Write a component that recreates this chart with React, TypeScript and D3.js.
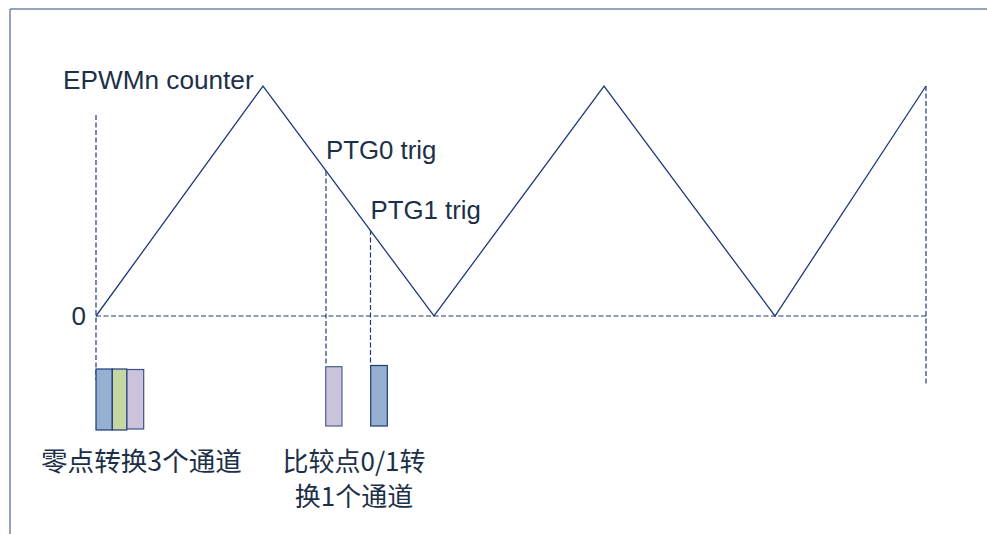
import React from "react";
import * as d3 from "d3";

// Counter waveform (time in arbitrary units, counter normalised 0..1)
const waveTimes = [0, 167, 338, 508, 679, 830];
const waveValues = [0, 1, 0, 1, 0, 1];

// Trigger points on the falling edge
const trigNames = ["PTG0 trig", "PTG1 trig"];
const trigTimes = [230, 274.5];
const trigValues = [0.63, 0.374];

// Conversion blocks: [start, end] time, colour group
const zeroBlocks = [
  { t0: 0, t1: 16.3, fill: "#95b0d0", stroke: "#1f3a78" },
  { t0: 16.3, t1: 30.8, fill: "#c5d7a0", stroke: "#1f3a78" },
  { t0: 31, t1: 47.7, fill: "#cbc2dc", stroke: "#3a5088" },
];
const trigBlocks = [
  { t0: 229.7, t1: 246, fill: "#cbc2dc", stroke: "#4a5f94" },
  { t0: 274.7, t1: 291.3, fill: "#95b0d0", stroke: "#1f3a78" },
];

const labelZero = ["零点转换3个通道"];
const labelTrig = ["比较点0/1转", "换1个通道"];

export default function App() {
  const W = 987;
  const H = 534;
  const x = d3.scaleLinear().domain([0, 830]).range([96, 926]);
  const y = d3.scaleLinear().domain([0, 1]).range([316, 86]);
  const line = d3
    .line<number>()
    .x((_, i) => x(waveTimes[i]))
    .y((d) => y(d));
  const navy = "#1f3a7a";
  const textColor = "#1c3049";
  const latin = "'Liberation Sans', Arial, sans-serif";
  const cjk = "'Noto Sans CJK SC', 'Liberation Sans', sans-serif";
  const dash = "5,2.5";
  const lastT = waveTimes[waveTimes.length - 1];

  return (
    <svg
      width={W}
      height={H}
      style={{ position: "absolute", left: 0, top: 0, background: "#fff" }}
    >
      {/* frame */}
      <line x1={10} y1={9} x2={10} y2={H} stroke="#7283a8" strokeWidth={1.5} />
      <line x1={10} y1={9} x2={W} y2={9} stroke="#7283a8" strokeWidth={1.5} />

      {/* zero line */}
      <line
        x1={x(0)}
        x2={x(lastT)}
        y1={y(0)}
        y2={y(0)}
        stroke={navy}
        strokeWidth={1.2}
        strokeDasharray={dash}
      />
      {/* vertical dashed markers */}
      <line x1={x(0)} x2={x(0)} y1={115} y2={380} stroke={navy} strokeWidth={1.2} strokeDasharray={dash} />
      <line x1={x(lastT)} x2={x(lastT)} y1={y(1)} y2={384} stroke={navy} strokeWidth={1.2} strokeDasharray={dash} />
      {trigTimes.map((t, i) => (
        <line
          key={i}
          x1={x(t)}
          x2={x(t)}
          y1={y(trigValues[i])}
          y2={trigBlocks[i] ? 366 : 380}
          stroke={navy}
          strokeWidth={1.2}
          strokeDasharray={dash}
        />
      ))}

      {/* waveform */}
      <path d={line(waveValues) || ""} fill="none" stroke={navy} strokeWidth={1.3} />

      {/* blocks */}
      {zeroBlocks.map((b, i) => (
        <rect
          key={"z" + i}
          x={x(b.t0)}
          y={i === 2 ? 369.5 : 369}
          width={x(b.t1) - x(b.t0)}
          height={i === 2 ? 59.5 : 61}
          fill={b.fill}
          stroke={b.stroke}
          strokeWidth={1.2}
        />
      ))}
      {trigBlocks.map((b, i) => (
        <rect
          key={"t" + i}
          x={x(b.t0)}
          y={i === 0 ? 366.7 : 365.5}
          width={x(b.t1) - x(b.t0)}
          height={i === 0 ? 59.3 : 60.5}
          fill={b.fill}
          stroke={b.stroke}
          strokeWidth={1.2}
        />
      ))}

      {/* labels */}
      <text x={63} y={89} fontFamily={latin} fontSize={26.2} fill={textColor}>
        EPWMn counter
      </text>
      {trigNames.map((n, i) => (
        <text
          key={n}
          x={x(trigTimes[i])}
          y={i === 0 ? 159 : 219}
          fontFamily={latin}
          fontSize={25.8}
          fill={textColor}
        >
          {n}
        </text>
      ))}
      <text x={86} y={325} textAnchor="end" fontFamily={latin} fontSize={26} fill={textColor}>
        0
      </text>
      {labelZero.map((s, i) => (
        <text key={s} x={41} y={471 + i * 35} fontFamily={cjk} fontSize={26.6} fill={textColor}>
          {s}
        </text>
      ))}
      {labelTrig.map((s, i) => (
        <text
          key={s}
          x={354}
          y={471 + i * 35}
          textAnchor="middle"
          fontFamily={cjk}
          fontSize={26}
          fill={textColor}
        >
          {s}
        </text>
      ))}
    </svg>
  );
}
